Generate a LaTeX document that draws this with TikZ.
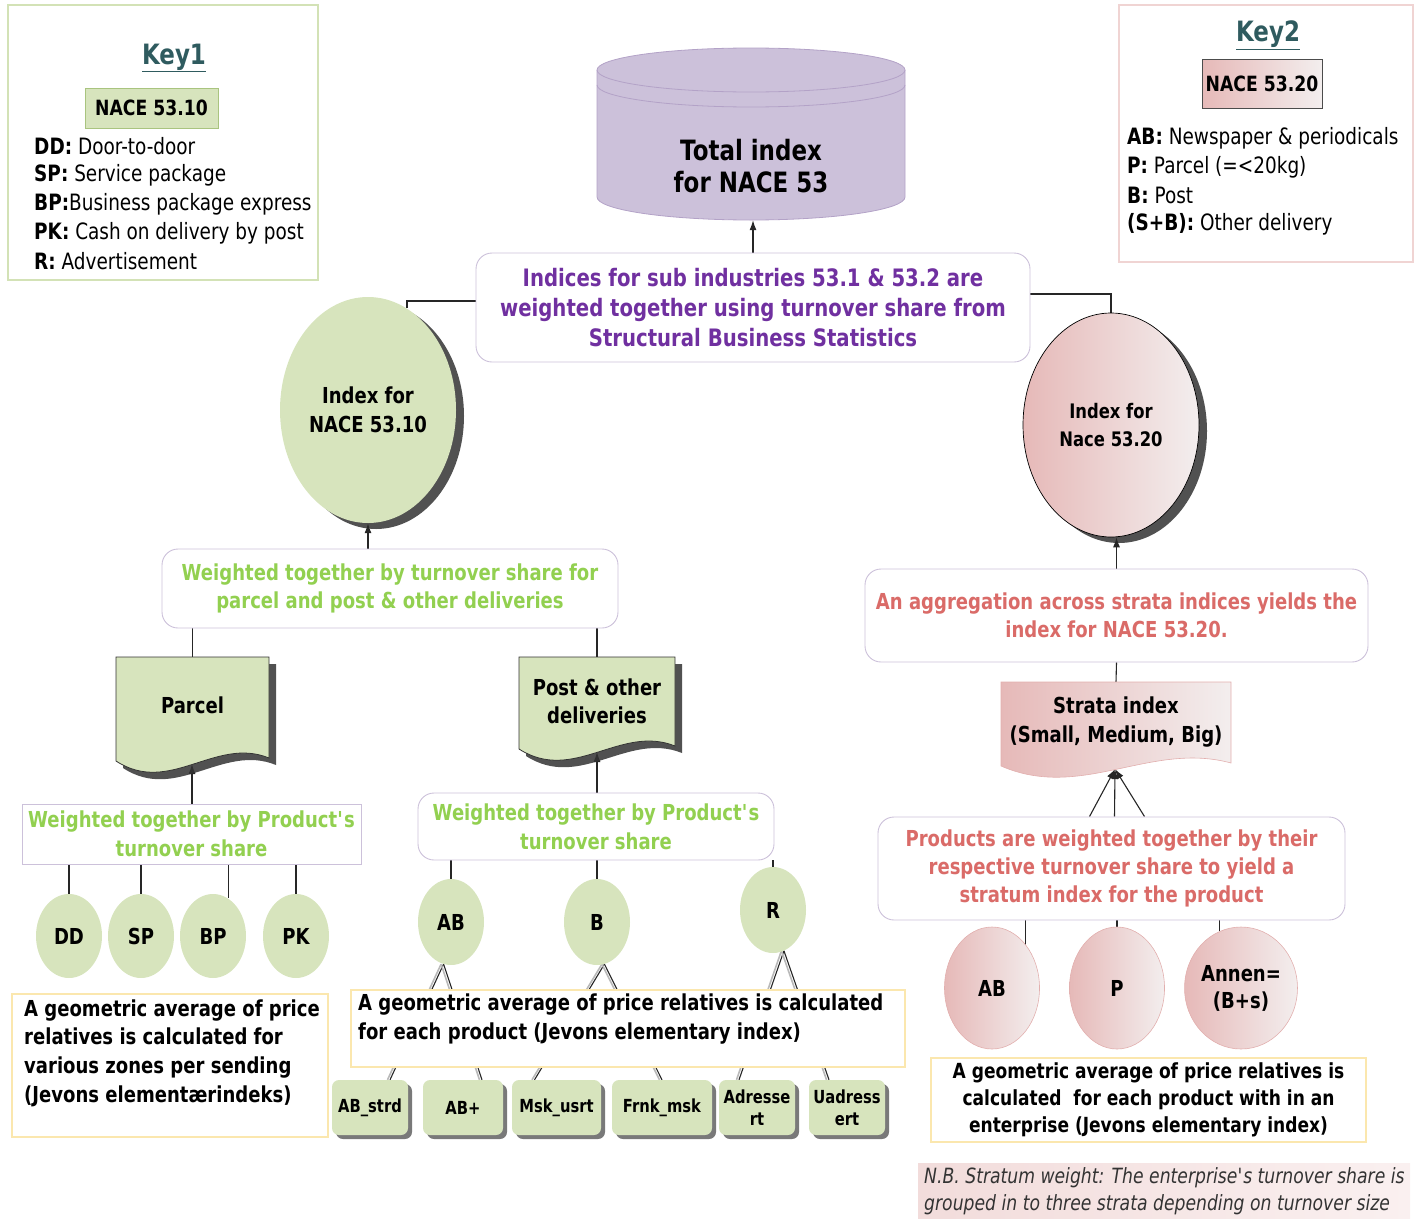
\documentclass[tikz,border=0pt]{standalone}
\usepackage{fontspec}
\setmainfont[FakeStretch=0.82]{DejaVu Sans}
\usetikzlibrary{shapes.geometric,arrows.meta,shadows,calc}
\definecolor{gfill}{HTML}{D7E4BD}
\definecolor{gborder}{HTML}{A9C47F}
\definecolor{k1border}{HTML}{D3E2B6}
\definecolor{k2border}{HTML}{F0D4D3}
\definecolor{cylfill}{HTML}{CCC1DA}
\definecolor{cylborder}{HTML}{B3A2C7}
\definecolor{ptext}{HTML}{7030A0}
\definecolor{bpurple}{HTML}{CCC1DA}
\definecolor{gtext}{HTML}{92D050}
\definecolor{stext}{HTML}{DA6B68}
\definecolor{pinkA}{HTML}{E6B9B8}
\definecolor{pinkB}{HTML}{F3EEEE}
\definecolor{pinkb}{HTML}{E2AFAE}
\definecolor{yborder}{HTML}{FBE7AE}
\definecolor{teal}{HTML}{2F5B5F}
\definecolor{nbA}{HTML}{F2DCDB}
\definecolor{nbB}{HTML}{FAF0F0}
\newcommand\fsz[2]{\fontsize{#1}{#2}\selectfont}
\newcommand\apos{\textquotesingle}
\newcommand\docshape[5]{%
  \path[#1] (#2,#3) -- (#4,#3) -- (#4,{#5-3}) .. controls ({#4-0.35*(#4-#2)},{#5-25}) and ({#2+0.35*(#4-#2)},{#5+35}) .. (#2,#5) -- cycle;}
\pgfdeclarelayer{bg}
\pgfsetlayers{bg,main}
\begin{document}
\begin{tikzpicture}[x=1pt,y=-1pt,
  txt/.style={inner sep=0pt, align=center},
  rbox/.style={draw=bpurple, line width=0.9pt, rounded corners=16pt, fill=white, inner sep=0pt, align=center},
  sbox/.style={draw=bpurple, line width=0.9pt, fill=white, inner sep=0pt, align=center},
  ybox/.style={draw=yborder, line width=1.2pt, fill=white, inner sep=0pt},
  gcirc/.style={ellipse, fill=gfill, inner sep=0pt, minimum width=66pt, font=\fsz{22}{26}\bfseries},
  pcirc/.style={ellipse, left color=pinkA, right color=pinkB, draw=pinkb, line width=0.6pt, inner sep=0pt, minimum width=95pt, minimum height=122pt, align=center, font=\fsz{22}{27}\bfseries},
  prod/.style={rectangle, rounded corners=7pt, fill=gfill, inner sep=0pt, drop shadow={shadow xshift=4pt, shadow yshift=-4pt, fill=black!70, opacity=0.75}, font=\fsz{18}{22}\bfseries, align=center, minimum height=55pt},
  bigshadow/.style={drop shadow={shadow xshift=8pt, shadow yshift=-6pt, fill=black!85, opacity=0.8}},
  conn/.style={line width=1.1pt, black!85},
  arr/.style={conn, -{Latex[length=10pt,width=7pt]}},
  shline/.style={gray!55, line width=1.6pt, transform canvas={xshift=-2.5pt}}
]
\useasboundingbox (0,0) rectangle (1423,1218);

% ---------- Key 1 ----------
\node[draw=k1border, line width=2pt, minimum width=310pt, minimum height=275pt, inner sep=0] (key1) at (163,142.5) {};
\node[txt, text=teal, font=\fsz{28}{32}\bfseries] (k1t) at (174,58) {\underline{Key1}};
\node[fill=gfill, draw=gborder, line width=0.8pt, minimum width=133pt, minimum height=40pt, inner sep=0, font=\fsz{21}{25}\bfseries] (k1n) at (151.5,108) {NACE 53.10};
\node[anchor=west, inner sep=0, font=\fsz{22.5}{28}] (k1a) at (34,146) {\textbf{DD:} Door-to-door};
\node[anchor=west, inner sep=0, font=\fsz{22.5}{28}] (k1b) at (34,175) {\textbf{SP:} Service package};
\node[anchor=west, inner sep=0, font=\fsz{22.5}{28}] (k1c) at (34,204) {\textbf{BP:}Business package express};
\node[anchor=west, inner sep=0, font=\fsz{22.5}{28}] (k1d) at (34,233) {\textbf{PK:} Cash on delivery by post};
\node[anchor=west, inner sep=0, font=\fsz{22.5}{28}] (k1e) at (34,261) {\textbf{R:} Advertisement};

% ---------- Key 2 ----------
\node[draw=k2border, line width=2pt, minimum width=294pt, minimum height=257pt, inner sep=0] (key2) at (1266,133.5) {};
\node[txt, text=teal, font=\fsz{28}{32}\bfseries] (k2t) at (1268,35) {\underline{Key2}};
\node[left color=pinkA, right color=pinkB, draw=black!70, line width=0.8pt, minimum width=120pt, minimum height=49pt, inner sep=0, font=\fsz{21}{25}\bfseries] (k2n) at (1262,83.5) {NACE 53.20};
\node[anchor=west, inner sep=0, font=\fsz{22.5}{28}] (k2a) at (1127,138) {\textbf{AB:} Newspaper \& periodicals};
\node[anchor=west, inner sep=0, font=\fsz{22.5}{28}] (k2b) at (1127,167) {\textbf{P:} Parcel (=<20kg)};
\node[anchor=west, inner sep=0, font=\fsz{22.5}{28}] (k2c) at (1127,195) {\textbf{B:} Post};
\node[anchor=west, inner sep=0, font=\fsz{22.5}{28}] (k2d) at (1127,224) {\textbf{(S+B):} Other delivery};

% ---------- Cylinder ----------
\fill[cylfill] (597,70) -- (597,197) .. controls (597,209.7) and (666,220) .. (751,220) .. controls (836,220) and (905,209.7) .. (905,197) -- (905,70) -- cycle;
\draw[cylborder, line width=0.8pt] (597,70) -- (597,197) .. controls (597,209.7) and (666,220) .. (751,220) .. controls (836,220) and (905,209.7) .. (905,197) -- (905,70);
\draw[cylborder, fill=cylfill, line width=0.8pt] (751,70) ellipse [x radius=154, y radius=22];
\draw[cylborder, line width=0.8pt] (597,85) .. controls (597,97) and (666,107) .. (751,107) .. controls (836,107) and (905,97) .. (905,85);
\node[inner sep=0, minimum width=308pt, minimum height=172pt] (cyl) at (751,134) {};
\node[txt, font=\fsz{28}{32}\bfseries] (total) at (751,166) {Total index\\for NACE 53};

% ---------- Top box ----------
\node[rbox, minimum width=554pt, minimum height=109pt, text=ptext, font=\fsz{24}{30}\bfseries] (subind) at (753,307.5)
  {Indices for sub industries 53.1 \& 53.2 are\\weighted together using turnover share from\\Structural Business Statistics};

% ---------- Left branch ----------
\node[ellipse, fill=gfill, minimum width=176pt, minimum height=226pt, inner sep=0, align=center,
  bigshadow, font=\fsz{22}{29}\bfseries] (n5310) at (368,410) {Index for\\NACE 53.10};
\node[rbox, minimum width=456pt, minimum height=79pt, text=gtext, font=\fsz{22}{28}\bfseries] (wt1) at (390,588.5)
  {Weighted together by turnover share for\\parcel and post \& other deliveries};

\docshape{fill=black!80, opacity=0.85, xshift=7pt, yshift=-7pt}{116}{657}{269}{761}
\docshape{fill=gfill, draw=black!80, line width=0.8pt}{116}{657}{269}{761}
\node[txt, minimum width=153pt, minimum height=96pt, font=\fsz{22}{28}\bfseries] (parcel) at (192.5,705) {Parcel};
\coordinate (parcelb) at (192,764);

\docshape{fill=black!80, opacity=0.85, xshift=7pt, yshift=-7pt}{519}{657}{675}{749}
\docshape{fill=gfill, draw=black!80, line width=0.8pt}{519}{657}{675}{749}
\node[txt, minimum width=156pt, minimum height=88pt, font=\fsz{22}{28}\bfseries] (post) at (597,701) {Post \& other\\deliveries};
\coordinate (postb) at (597,752);

\node[sbox, minimum width=339pt, minimum height=60pt, text=gtext, font=\fsz{22}{29}\bfseries] (wp1) at (191.5,834)
  {Weighted together by Product\apos s\\turnover share};
\node[rbox, minimum width=356pt, minimum height=67pt, text=gtext, font=\fsz{22}{29}\bfseries] (wp2) at (596,826.5)
  {Weighted together by Product\apos s\\turnover share};

\node[gcirc, minimum height=84pt] (dd) at (69,936) {DD};
\node[gcirc, minimum height=84pt] (sp) at (141,936) {SP};
\node[gcirc, minimum height=84pt] (bp) at (213,936) {BP};
\node[gcirc, minimum height=84pt] (pk) at (296,936) {PK};

\node[ybox, minimum width=316pt, minimum height=143pt] (lt) at (170,1065.5) {};
\node[anchor=west, inner sep=0, align=left, font=\fsz{22}{28.7}\bfseries] (ltt) at (24,1053)
  {A geometric average of price\\relatives is calculated for\\various zones per sending\\(Jevons elementærindeks)};

\node[gcirc, minimum height=86pt] (ab1) at (451,922) {AB};
\node[gcirc, minimum height=86pt] (b1) at (597,922) {B};
\node[gcirc, minimum height=86pt] (r1) at (773,910) {R};

\node[ybox, minimum width=554pt, minimum height=77pt] (mt) at (628,1028.5) {};
\node[anchor=west, inner sep=0, align=left, font=\fsz{22}{29}\bfseries] (mtt) at (358,1019.5)
  {A geometric average of price relatives is calculated\\for each product (Jevons elementary index)};

\node[prod, minimum width=76pt] (abstrd) at (370,1107.5) {AB\_strd};
\node[prod, minimum width=80pt] (abplus) at (463,1107.5) {AB+};
\node[prod, minimum width=89pt] (mskusrt) at (556.5,1107.5) {Msk\_usrt};
\node[prod, minimum width=100pt] (frnkmsk) at (662,1107.5) {Frnk\_msk};
\node[prod, minimum width=76pt] (adresse) at (757,1107.5) {Adresse\\rt};
\node[prod, minimum width=76pt] (uadress) at (847,1107.5) {Uadress\\ert};

% ---------- Right branch ----------
\node[ellipse, left color=pinkA, right color=pinkB, draw=black, line width=0.7pt, minimum width=176pt, minimum height=224pt, inner sep=0, align=center,
  bigshadow, font=\fsz{20}{28}\bfseries] (n5320) at (1111,425) {Index for\\Nace 53.20};
\node[rbox, minimum width=503pt, minimum height=93pt, text=stext, font=\fsz{22}{28}\bfseries] (agg) at (1116.5,615.5)
  {An aggregation across strata indices yields the\\index for NACE 53.20.};

\docshape{left color=pinkA, right color=pinkB, draw=pinkb, line width=0.6pt}{1001}{682}{1231}{766}
\node[txt, minimum width=230pt, minimum height=80pt, font=\fsz{22}{29}\bfseries] (strata) at (1116,722) {Strata index\\(Small, Medium, Big)};
\coordinate (stb) at (1115,769);

\node[rbox, minimum width=467pt, minimum height=103pt, text=stext, font=\fsz{22}{28}\bfseries] (prodbox) at (1111.5,868.5)
  {Products are weighted together by their\\respective turnover share to yield a\\stratum index for the product};

\node[pcirc] (abr) at (992,988) {AB};
\node[pcirc] (pr) at (1117,988) {P};
\node[pcirc] (annen) at (1241,988) {Annen=\\(B+s)};

\node[ybox, minimum width=435pt, minimum height=84pt, align=center, font=\fsz{20.8}{27}\bfseries] (gb) at (1148.5,1100)
  {A geometric average of price relatives is\\calculated ~for each product with in an\\enterprise (Jevons elementary index)};

\node[left color=nbA, right color=nbB, minimum width=492pt, minimum height=56pt, inner sep=0, anchor=north west] (nb) at (918,1163) {};
\node[anchor=west, inner sep=0, align=left, text=black!80, font=\fsz{21}{27}\itshape] (nbt) at (924,1191.5)
  {N.B. Stratum weight: The enterprise\apos s turnover share is\\grouped in to three strata depending on turnover size};

% ---------- Connectors ----------
\begin{pgfonlayer}{bg}
\draw[arr] (subind.north) -- (subind.north |- cyl.south);
\draw[conn] (subind.west |- 0,301) -| (n5310.69);
\draw[conn] (subind.east |- 0,294) -| (n5320.north);
\draw[arr] (n5310.south |- wt1.north) -- (n5310.south);
\draw[conn] (parcel.north |- wt1.south) -- (parcel.north);
\draw[conn] (post.north |- wt1.south) -- (post.north);
\draw[arr] (parcelb |- wp1.north) -- (parcelb);
\draw[arr] (postb |- wp2.north) -- (postb);
\draw[conn] (wp1.south -| dd.north) -- (dd.north);
\draw[conn] (wp1.south -| sp.north) -- (sp.north);
\draw[conn] (wp1.south -| bp.68) -- (bp.68);
\draw[conn] (wp1.south -| pk.north) -- (pk.north);
\draw[conn] (wp2.south -| ab1.north) -- (ab1.north);
\draw[conn] (wp2.south -| b1.north) -- (b1.north);
\draw[conn] (wp2.south -| r1.north) -- (r1.north);
% circle -> product rectangles
\draw[shline] (ab1.260) -- ($(abstrd.north)+(20,0)$);
\draw[conn] (ab1.260) -- ($(abstrd.north)+(20,0)$);
\draw[shline] (ab1.260) -- ($(abplus.north)+(19,0)$);
\draw[conn] (ab1.260) -- ($(abplus.north)+(19,0)$);
\draw[shline] (b1.280) -- ($(mskusrt.north)+(-22,0)$);
\draw[conn] (b1.280) -- ($(mskusrt.north)+(-22,0)$);
\draw[shline] (b1.280) -- (frnkmsk.north);
\draw[conn] (b1.280) -- (frnkmsk.north);
\draw[shline] (r1.285) -- ($(adresse.north)+(-18,0)$);
\draw[conn] (r1.285) -- ($(adresse.north)+(-18,0)$);
\draw[shline] (r1.285) -- ($(uadress.north)+(-18,0)$);
\draw[conn] (r1.285) -- ($(uadress.north)+(-18,0)$);
% right side
\draw[arr] (agg.north) -- (n5320.south -| agg.north);
\draw[conn] (agg.south) -- (strata.north);
\draw[arr] ($(prodbox.north)+(-22,0)$) -- (stb);
\draw[arr] ($(prodbox.north)+(3,0)$) -- (stb);
\draw[arr] ($(prodbox.north)+(33,0)$) -- (stb);
\draw[conn] (prodbox.south -| abr.52) -- (abr.52);
\draw[conn] (prodbox.south -| pr.north) -- (pr.north);
\draw[conn] (prodbox.south -| annen.111) -- (annen.111);
\end{pgfonlayer}
\end{tikzpicture}
\end{document}
